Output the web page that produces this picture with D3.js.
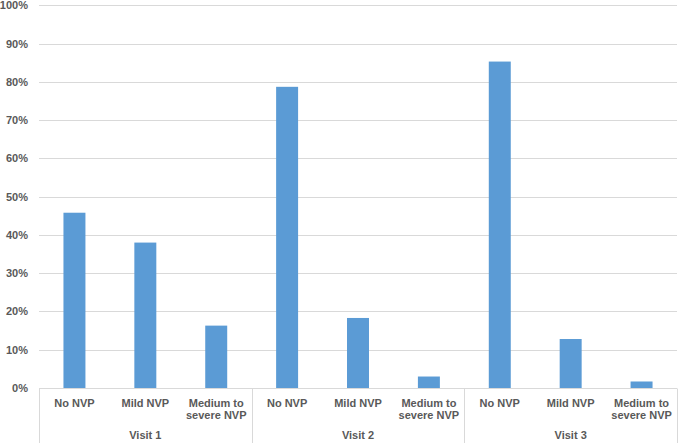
<!DOCTYPE html>
<html>
<head>
<meta charset="utf-8">
<script src="https://cdn.jsdelivr.net/npm/d3@7"></script>
<style>
  body { margin: 0; background: #fff; }
  text { font-family: "Liberation Sans", Arial, sans-serif; font-weight: bold; fill: #595959; }
</style>
</head>
<body>
<div id="chart"></div>
<script>
const visits = ["Visit 1", "Visit 2", "Visit 3"];
const severities = ["No NVP", "Mild NVP", "Medium to severe NVP"];
const severityLines = [["No NVP"], ["Mild NVP"], ["Medium to", "severe NVP"]];
const visit1 = [45.8, 38.0, 16.3];
const visit2 = [78.7, 18.3, 3.0];
const visit3 = [85.3, 12.8, 1.7];
const yTicks = [0, 10, 20, 30, 40, 50, 60, 70, 80, 90, 100];

const width = 678, height = 443;
const margin = { left: 39, right: 1, top: 5.3, bottom: 55 };

const rows = [];
[visit1, visit2, visit3].forEach((vals, vi) => {
  vals.forEach((v, si) => rows.push({ visit: visits[vi], vi, si, key: vi + "-" + si, value: v }));
});

const svg = d3.select("#chart").append("svg")
  .attr("width", width)
  .attr("height", height);

const x = d3.scaleBand()
  .domain(rows.map(d => d.key))
  .range([margin.left, width - margin.right])
  .paddingInner(0.69)
  .paddingOuter(0.345);

const y = d3.scaleLinear()
  .domain([0, 100])
  .range([height - margin.bottom, margin.top]);

// gridlines
svg.append("g")
  .selectAll("line")
  .data(yTicks.filter(t => t > 0))
  .enter().append("line")
  .attr("x1", margin.left)
  .attr("x2", width - margin.right)
  .attr("y1", d => Math.round(y(d)) + 0.5)
  .attr("y2", d => Math.round(y(d)) + 0.5)
  .attr("stroke", "#d9d9d9")
  .attr("stroke-width", 1);

// y labels
svg.append("g")
  .selectAll("text")
  .data(yTicks)
  .enter().append("text")
  .attr("x", 28)
  .attr("y", d => y(d) + 4)
  .attr("text-anchor", "end")
  .style("font-size", "11px")
  .text(d => d + "%");

// bars
svg.append("g")
  .selectAll("rect")
  .data(rows)
  .enter().append("rect")
  .attr("x", d => x(d.key))
  .attr("width", x.bandwidth())
  .attr("y", d => y(d.value))
  .attr("height", d => y(0) - y(d.value))
  .attr("fill", "#5b9bd5");

// axis line
const y0 = Math.round(y(0)) + 0.5;
svg.append("line")
  .attr("x1", margin.left).attr("x2", width - margin.right)
  .attr("y1", y0).attr("y2", y0)
  .attr("stroke", "#d9d9d9");

// group separators
const step = x.step();
const groupEdges = [0, 3, 6, 9].map(i => margin.left + i * step);
svg.append("g")
  .selectAll("line")
  .data(groupEdges)
  .enter().append("line")
  .attr("x1", d => Math.round(d) + 0.5)
  .attr("x2", d => Math.round(d) + 0.5)
  .attr("y1", y0)
  .attr("y2", height)
  .attr("stroke", "#d9d9d9");

// category labels
const cat = svg.append("g")
  .selectAll("text")
  .data(rows)
  .enter().append("text")
  .attr("text-anchor", "middle")
  .style("font-size", "11px")
  .attr("transform", d => `translate(${x(d.key) + x.bandwidth() / 2},${y0 + 18})`);

cat.selectAll("tspan")
  .data(d => severityLines[d.si])
  .enter().append("tspan")
  .attr("x", 0)
  .attr("dy", (d, i) => i === 0 ? 0 : 12.5)
  .text(d => d);

// visit labels
svg.append("g")
  .selectAll("text")
  .data(visits)
  .enter().append("text")
  .attr("text-anchor", "middle")
  .style("font-size", "11px")
  .attr("x", (d, i) => (groupEdges[i] + groupEdges[i + 1]) / 2)
  .attr("y", 439)
  .text(d => d);
</script>
</body>
</html>
